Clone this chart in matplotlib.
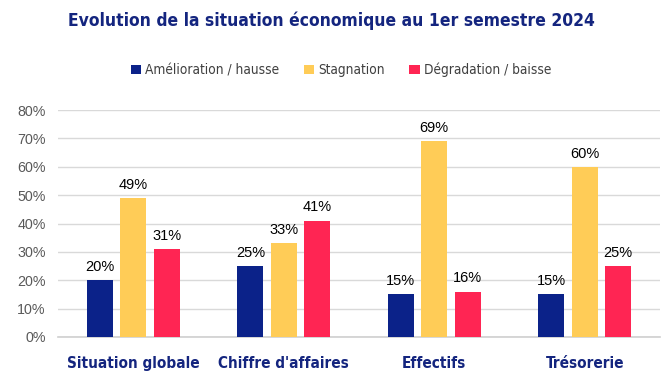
import numpy as np
import matplotlib
matplotlib.use("Agg")
import matplotlib.pyplot as plt
from matplotlib.ticker import PercentFormatter

# DATA
categories = ["Situation globale", "Chiffre d'affaires", "Effectifs", "Trésorerie"]
series_names = ["Amélioration / hausse", "Stagnation", "Dégradation / baisse"]
amelioration = [20, 25, 15, 15]
stagnation = [49, 33, 69, 60]
degradation = [31, 41, 16, 25]
colors = ["#0b2289", "#ffcc57", "#ff2553"]
navy = "#14257f"

plt.rcParams['font.family'] = ['DejaVu Sans']
plt.rcParams['font.stretch'] = 'condensed'

fig = plt.figure(figsize=(6.62, 3.9), dpi=100)
ax = fig.add_axes([58/662, 1 - 337/390, 602/662, 227/390])

x = np.arange(len(categories))
step = 0.222
width = 0.172
for i, (vals, name) in enumerate(zip([amelioration, stagnation, degradation], series_names)):
    bars = ax.bar(x + (i - 1) * step, vals, width, color=colors[i], label=name, zorder=3)
    for b, v in zip(bars, vals):
        ax.text(b.get_x() + b.get_width() / 2, v + 2.2, f"{v}%", ha="center", va="bottom",
                fontsize=10.5, family=['Liberation Sans', 'DejaVu Sans'], stretch='normal',
                color="black")

ax.set_xlim(-0.5, len(categories) - 0.5)
ax.set_ylim(0, 80)
ax.set_yticks(np.arange(0, 81, 10))
ax.yaxis.set_major_formatter(PercentFormatter(decimals=0))
ax.grid(axis="y", color="#d9d9d9", linewidth=1, zorder=0)
for s in ["top", "right", "left"]:
    ax.spines[s].set_visible(False)
ax.spines["bottom"].set_color("#cfcfcf")
ax.spines["bottom"].set_linewidth(1.2)
ax.tick_params(axis="y", length=0, pad=9, labelcolor="#595959")
ax.tick_params(axis="x", length=0, pad=14)
ax.set_xticks(x)
ax.set_xticklabels(categories, fontsize=11, fontweight="bold", color=navy)
for t in ax.get_yticklabels():
    t.set_family(['Liberation Sans', 'DejaVu Sans'])
    t.set_fontstretch('normal')
    t.set_fontsize(10.3)

fig.text(0.5, 1 - 21/390, "Evolution de la situation économique au 1er semestre 2024",
         ha="center", va="center", fontsize=12.5, fontweight="bold", color=navy)
fig.legend(loc="center", bbox_to_anchor=(341/662, 1 - 70/390), ncol=3, frameon=False,
           fontsize=9.8, handlelength=0.75, handleheight=0.75, handletextpad=0.3,
           columnspacing=1.8, labelcolor="#404040")

fig.savefig("out.png", dpi=100)
